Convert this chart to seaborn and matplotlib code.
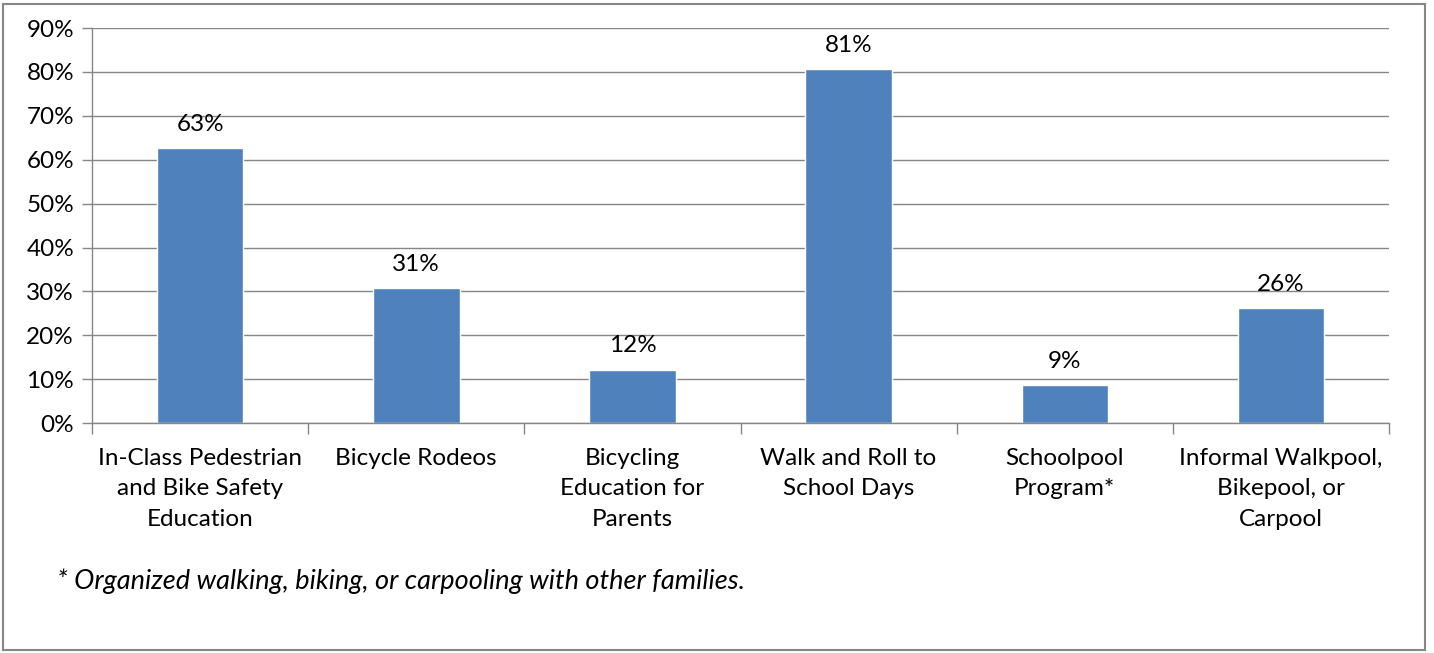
import matplotlib
matplotlib.use("Agg")
import matplotlib.pyplot as plt
import matplotlib.patches as mpatches
from matplotlib.ticker import FixedLocator
import seaborn as sns
import pandas as pd

categories = [
    "In-Class Pedestrian\nand Bike Safety\nEducation",
    "Bicycle Rodeos",
    "Bicycling\nEducation for\nParents",
    "Walk and Roll to\nSchool Days",
    "Schoolpool\nProgram*",
    "Informal Walkpool,\nBikepool, or\nCarpool",
]
values = [62.7, 30.8, 12.2, 80.7, 8.7, 26.3]
labels = ["63%", "31%", "12%", "81%", "9%", "26%"]
yticks = [0, 10, 20, 30, 40, 50, 60, 70, 80, 90]
footnote = "* Organized walking, biking, or carpooling with other families."

bar_color = "#4F81BD"
grid_color = "#868686"

sns.set_theme(style="white")
plt.rcParams["font.family"] = ["Lato", "DejaVu Sans"]

df = pd.DataFrame({"cat": categories, "val": values})

fig = plt.figure(figsize=(14.34, 6.53), dpi=100)
ax = fig.add_axes([0.0642, 0.352, 0.9044, 0.605])
sns.barplot(data=df, x="cat", y="val", color=bar_color, saturation=1,
            width=0.4, ax=ax)

ax.set_ylim(0, 90)
ax.set_xlim(-0.5, len(categories) - 0.5)
ax.set_yticks(yticks)
ax.set_yticklabels([f"{t}%" for t in yticks], fontsize=17.5, color="black")
ax.yaxis.grid(True, color=grid_color, linewidth=1)
ax.set_axisbelow(True)
ax.set_xlabel("")
ax.set_ylabel("")

ax.tick_params(axis="x", which="major", length=0, labelsize=17.5, pad=18,
               labelcolor="black")
for t in ax.get_xticklabels():
    t.set_linespacing(1.55)
ax.xaxis.set_minor_locator(FixedLocator([i - 0.5 for i in range(len(categories) + 1)]))
ax.tick_params(axis="x", which="minor", length=8, color=grid_color, width=1,
               direction="out", bottom=True)
ax.tick_params(axis="y", length=7, color=grid_color, width=1, direction="out",
               left=True, pad=6)

for s in ["top", "right"]:
    ax.spines[s].set_visible(False)
for s in ["left", "bottom"]:
    ax.spines[s].set_color(grid_color)
    ax.spines[s].set_linewidth(1)

for i, (v, lab) in enumerate(zip(values, labels)):
    ax.text(i, v + 3, lab, ha="center", va="bottom", fontsize=17.5, color="black")

fig.text(0.04, 1 - 581 / 653, footnote, fontsize=19.5, style="italic",
         ha="left", va="center", color="black")

fig.patches.append(mpatches.Rectangle((0.002, 0.004), 0.992, 0.99,
                                      transform=fig.transFigure, fill=False,
                                      edgecolor=grid_color, linewidth=1.5))

fig.savefig("out.png", dpi=100, facecolor="white")
